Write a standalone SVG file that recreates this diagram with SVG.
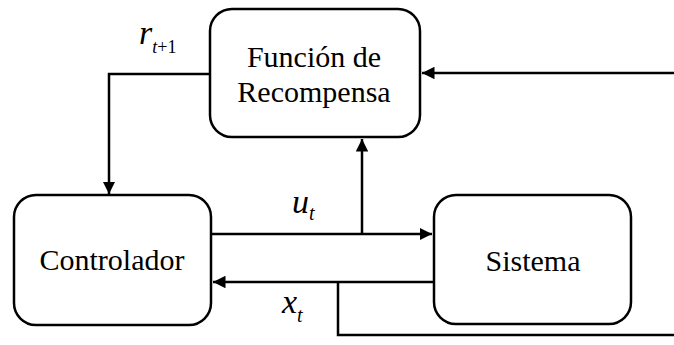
<svg xmlns="http://www.w3.org/2000/svg" width="674" height="345" viewBox="0 0 674 345">
<defs>
<marker id="ah" viewBox="0 0 10 10" refX="10" refY="5" markerWidth="5" markerHeight="5" orient="auto" markerUnits="strokeWidth">
<path d="M0,0 L10,5 L0,10 z" fill="#000"/>
</marker>
</defs>
<rect width="674" height="345" fill="#fff"/>
<g id="connectors" fill="none" stroke="#000" stroke-width="2.5">
<polyline points="210,74 109,74 109,194" marker-end="url(#ah)"/>
<line x1="211" y1="234" x2="432" y2="234" marker-end="url(#ah)"/>
<line x1="362" y1="234" x2="362" y2="139" marker-end="url(#ah)"/>
<line x1="434" y1="282" x2="213" y2="282" marker-end="url(#ah)"/>
<polyline points="338,282 338,335 674,335"/>
<line x1="674" y1="73" x2="422" y2="73" marker-end="url(#ah)"/>
</g>
<g id="reward">
<rect x="210" y="9" width="210" height="128" rx="22" fill="#fff" stroke="#000" stroke-width="2.5"/>
<text x="314" y="67" font-family="Liberation Serif" font-size="30" text-anchor="middle">Funci&#243;n de</text>
<text x="314" y="102" font-family="Liberation Serif" font-size="30" text-anchor="middle">Recompensa</text>
</g>
<g id="controlador">
<rect x="14" y="195" width="197" height="130" rx="22" fill="#fff" stroke="#000" stroke-width="2.5"/>
<text x="112" y="270" font-family="Liberation Serif" font-size="30" text-anchor="middle">Controlador</text>
</g>
<g id="sistema">
<rect x="434" y="195" width="197" height="129" rx="22" fill="#fff" stroke="#000" stroke-width="2.5"/>
<text x="533" y="271" font-family="Liberation Serif" font-size="30" text-anchor="middle">Sistema</text>
</g>
<g id="labels">
<text x="139" y="44" font-family="Liberation Serif" font-style="italic" font-size="34">r<tspan font-size="18" dy="9">t</tspan><tspan font-size="18" font-style="normal">+1</tspan></text>
<text x="292" y="213" font-family="Liberation Serif" font-style="italic" font-size="34">u<tspan font-size="20" dy="7">t</tspan></text>
<text x="282" y="313" font-family="Liberation Serif" font-style="italic" font-size="34">x<tspan font-size="20" dy="9">t</tspan></text>
</g>
</svg>
